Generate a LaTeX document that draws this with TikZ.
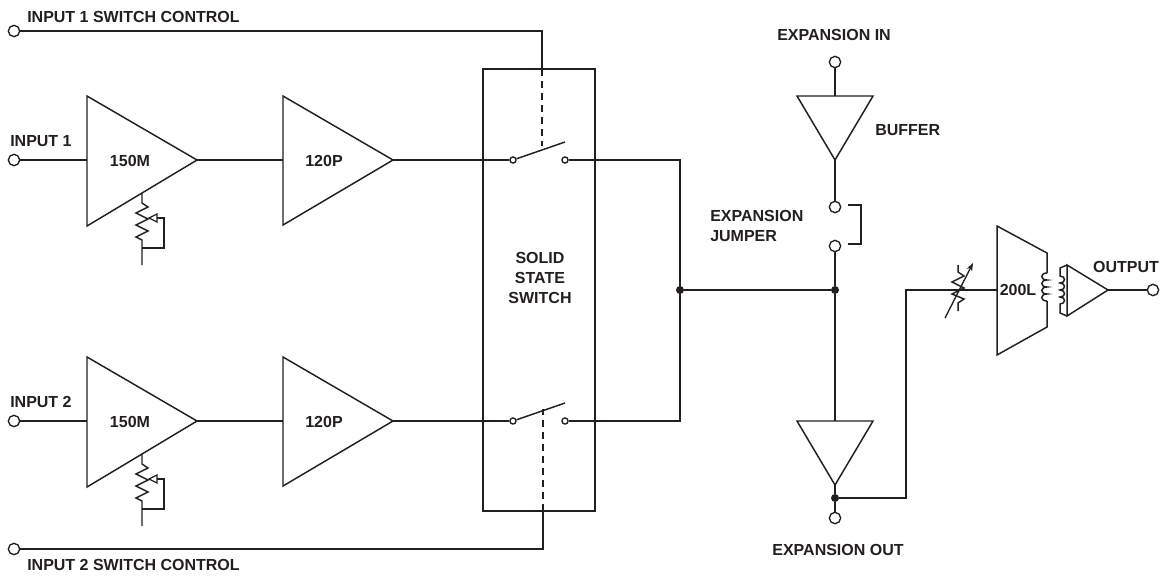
\documentclass[tikz,border=0pt]{standalone}
\usepackage{fontspec}
\setmainfont{Liberation Sans}
\usetikzlibrary{arrows.meta}
\definecolor{ink}{RGB}{35,31,32}
\begin{document}
\begin{tikzpicture}[x=0.75pt,y=-0.75pt,
  wire/.style={draw=ink,line width=1.1pt,line join=miter},
  ctl/.style={wire,dash pattern=on 5.25pt off 3.75pt},
  term/.style={circle,draw=ink,line width=1pt,fill=white,inner sep=0pt,minimum size=8.5pt},
  contact/.style={circle,draw=ink,line width=1pt,fill=white,inner sep=0pt,minimum size=4.6pt},
  dotn/.style={circle,fill=ink,inner sep=0pt,minimum size=6pt},
  lbl/.style={font=\fontsize{12}{15}\selectfont\bfseries,text=ink,inner sep=0pt}]
\useasboundingbox (0,0) rectangle (1162,575);

% ---------- two input channels ----------
\foreach \k/\dy in {1/0,2/261}{
 \begin{scope}[shift={(0,\dy)}]
  \node[term] (in\k) at (14,160) {};
  \node[lbl,anchor=west] (tin\k) at (10,141) {INPUT \k};
  % 150M amplifier
  \coordinate (ma\k) at (87,96);
  \coordinate (mb\k) at (87,226);
  \coordinate (mt\k) at (197,160);
  \coordinate (ml\k) at (87,160);
  \draw[wire] (ma\k) -- (mt\k) -- (mb\k) -- cycle;
  \node[lbl] (t150\k) at (130,161) {150M};
  % 120P amplifier
  \coordinate (pa\k) at (283,96);
  \coordinate (pb\k) at (283,225);
  \coordinate (pt\k) at (393,160);
  \coordinate (pl\k) at (283,160);
  \draw[wire] (pa\k) -- (pt\k) -- (pb\k) -- cycle;
  \node[lbl] (t120\k) at (324,161) {120P};
  % trim potentiometer
  \coordinate (rt\k) at (142,193);
  \coordinate (rb\k) at (142,265);
  \coordinate (rw\k) at (164,218);
  \draw[wire] (rt\k) -- (142,203) -- (148,207) -- (136,213) -- (148,219)
     -- (136,225) -- (148,231) -- (136,237) -- (142,240) -- (rb\k);
  \draw[ink,line width=0.9pt] (149,218) -- (157,214) -- (157,222) -- cycle;
  \draw[wire] (157,218) -- (rw\k) -- (164,248) -- (142,248);
  % switch
  \node[contact] (sl\k) at (513,160) {};
  \node[contact] (sr\k) at (565,160) {};
  \coordinate (bl\k) at (565,142);
  \draw[wire] (sl\k) -- (bl\k);
  % wiring
  \draw[wire] (in\k) -- (ml\k);
  \draw[wire] (mt\k) -- (pl\k);
  \draw[wire] (pt\k) -- (sl\k);
 \end{scope}
}

% ---------- solid state switch ----------
\coordinate (bx1) at (483,69);
\coordinate (bx2) at (595,511);
\draw[wire] (bx1) rectangle (bx2);
\node[lbl,align=center,font=\fontsize{12}{15}\selectfont\bfseries] (tsw) at (540,278) {SOLID\\STATE\\SWITCH};

% switch controls
\node[term] (c1) at (14,31) {};
\node[term] (c2) at (14,549) {};
\node[lbl,anchor=west] (tc1) at (27,17) {INPUT 1 SWITCH CONTROL};
\node[lbl,anchor=west] (tc2) at (27,565) {INPUT 2 SWITCH CONTROL};
\coordinate (k1a) at (542,31);
\coordinate (k1b) at (542,69);
\coordinate (k1c) at (542,146);
\coordinate (k2a) at (543,549);
\coordinate (k2b) at (543,511);
\coordinate (k2c) at (543,409);
\draw[wire] (c1) -- (k1a) -- (k1b);
\draw[ctl] (k1b) -- (k1c);
\draw[wire] (c2) -- (k2a) -- (k2b);
\draw[ctl] (k2b) -- (k2c);

% summing bus
\coordinate (bus1) at (680,160);
\coordinate (bus2) at (680,421);
\node[dotn] (j1) at (680,290) {};
\node[dotn] (j2) at (835,290) {};
\draw[wire] (sr1) -- (bus1) -- (bus2) -- (sr2);
\draw[wire] (j1) -- (j2);

% ---------- expansion ----------
\node[lbl] (tei) at (834,35) {EXPANSION IN};
\node[term] (ei) at (835,62) {};
\coordinate (ba) at (797,96);
\coordinate (bb) at (873,96);
\coordinate (btop) at (835,96);
\coordinate (btip) at (835,160);
\draw[wire] (ba) -- (bb) -- (btip) -- cycle;
\node[lbl,anchor=west] (tbuf) at (875,130) {BUFFER};
\node[term] (jp1) at (835,207) {};
\node[term] (jp2) at (835,246) {};
\draw[wire] (ei) -- (btop);
\draw[wire] (btip) -- (jp1);
\draw[wire] (jp2) -- (j2);
\draw[wire] (848,205) -- (861,205) -- (861,244) -- (848,244);
\node[lbl,anchor=west,align=left,font=\fontsize{12}{14.3}\selectfont\bfseries] (tjmp) at (710,226) {EXPANSION\\JUMPER};

\coordinate (oa) at (797,421);
\coordinate (ob) at (873,421);
\coordinate (otop) at (835,421);
\coordinate (otip) at (835,485);
\draw[wire] (oa) -- (ob) -- (otip) -- cycle;
\draw[wire] (j2) -- (otop);
\node[dotn] (j3) at (835,498) {};
\node[term] (eo) at (835,518) {};
\draw[wire] (otip) -- (j3) -- (eo);
\node[lbl] (teo) at (838,550) {EXPANSION OUT};

% ---------- output section ----------
\coordinate (r1) at (906,498);
\coordinate (r2) at (906,290);
\coordinate (tl) at (997,290);
\draw[wire] (j3) -- (r1) -- (r2) -- (tl);
% variable resistor
\draw[wire] (958,265) -- (958,272) -- (964,276) -- (952,282) -- (964,288)
   -- (952,294) -- (964,299) -- (958,303) -- (958,311);
\draw[ink,line width=1pt,-{Stealth[length=6pt,width=4.5pt]}] (945,318) -- (973,263);

% 200L
\coordinate (la) at (997,226);
\coordinate (lb) at (997,355);
\coordinate (lc) at (1047,253);
\coordinate (ld) at (1047,327);
\draw[wire] (1047,273) -- (lc) -- (la) -- (lb) -- (ld) -- (1047,301);
\draw[wire] (1047,273)
  .. controls (1040,273) and (1040,280) .. (1047,280)
  .. controls (1040,280) and (1040,287) .. (1047,287)
  .. controls (1040,287) and (1040,294) .. (1047,294)
  .. controls (1040,294) and (1040,301) .. (1047,301);
\node[lbl] (t200) at (1018,290) {200L};
% secondary + output amp
\coordinate (qa) at (1067,265);
\coordinate (qb) at (1067,316);
\coordinate (qt) at (1108,290);
\draw[wire] (qa) -- (qt) -- (qb) -- cycle;
\draw[wire] (qa) -- (1060,268) -- (1060,276)
  .. controls (1066,276) and (1066,283) .. (1060,283)
  .. controls (1066,283) and (1066,290) .. (1060,290)
  .. controls (1066,290) and (1066,297) .. (1060,297)
  .. controls (1066,297) and (1066,304) .. (1060,304)
  -- (1060,313) -- (qb);
\node[term] (out) at (1153,290) {};
\draw[wire] (qt) -- (out);
\node[lbl] (tout) at (1126,267) {OUTPUT};
\end{tikzpicture}
\end{document}
